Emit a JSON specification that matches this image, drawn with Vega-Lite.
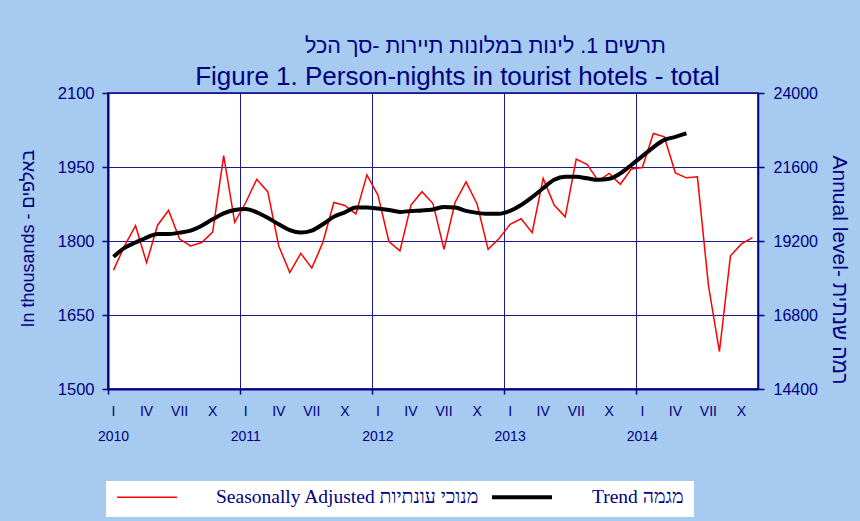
{
  "$schema": "https://vega.github.io/schema/vega-lite/v6.json",
  "width": 650,
  "height": 296,
  "autosize": {"type": "none"},
  "padding": {"left": 108, "top": 93, "right": 102, "bottom": 132},
  "background": "#A6CAF0",
  "config": {
    "font": "Liberation Sans",
    "view": {"stroke": "#000080", "strokeWidth": 1.5, "fill": "white"}
  },
  "data": {
    "values": [
      {"m": "2010-01", "sa": 1741, "trend": 1768},
      {"m": "2010-02", "sa": 1790, "trend": 1786},
      {"m": "2010-03", "sa": 1831, "trend": 1797},
      {"m": "2010-04", "sa": 1756, "trend": 1807},
      {"m": "2010-05", "sa": 1832, "trend": 1814},
      {"m": "2010-06", "sa": 1862, "trend": 1814},
      {"m": "2010-07", "sa": 1804, "trend": 1817},
      {"m": "2010-08", "sa": 1790, "trend": 1821},
      {"m": "2010-09", "sa": 1797, "trend": 1831},
      {"m": "2010-10", "sa": 1818, "trend": 1844},
      {"m": "2010-11", "sa": 1973, "trend": 1856},
      {"m": "2010-12", "sa": 1838, "trend": 1863},
      {"m": "2011-01", "sa": 1878, "trend": 1865},
      {"m": "2011-02", "sa": 1925, "trend": 1858},
      {"m": "2011-03", "sa": 1900, "trend": 1847},
      {"m": "2011-04", "sa": 1790, "trend": 1834},
      {"m": "2011-05", "sa": 1736, "trend": 1822},
      {"m": "2011-06", "sa": 1775, "trend": 1817},
      {"m": "2011-07", "sa": 1745, "trend": 1821},
      {"m": "2011-08", "sa": 1797, "trend": 1834},
      {"m": "2011-09", "sa": 1878, "trend": 1849},
      {"m": "2011-10", "sa": 1872, "trend": 1858},
      {"m": "2011-11", "sa": 1855, "trend": 1868},
      {"m": "2011-12", "sa": 1934, "trend": 1868},
      {"m": "2012-01", "sa": 1893, "trend": 1866},
      {"m": "2012-02", "sa": 1799, "trend": 1863},
      {"m": "2012-03", "sa": 1780, "trend": 1859},
      {"m": "2012-04", "sa": 1873, "trend": 1861},
      {"m": "2012-05", "sa": 1900, "trend": 1862},
      {"m": "2012-06", "sa": 1876, "trend": 1864},
      {"m": "2012-07", "sa": 1783, "trend": 1869},
      {"m": "2012-08", "sa": 1878, "trend": 1868},
      {"m": "2012-09", "sa": 1920, "trend": 1861},
      {"m": "2012-10", "sa": 1875, "trend": 1857},
      {"m": "2012-11", "sa": 1783, "trend": 1855},
      {"m": "2012-12", "sa": 1805, "trend": 1855},
      {"m": "2013-01", "sa": 1834, "trend": 1861},
      {"m": "2013-02", "sa": 1845, "trend": 1873},
      {"m": "2013-03", "sa": 1817, "trend": 1889},
      {"m": "2013-04", "sa": 1927, "trend": 1907},
      {"m": "2013-05", "sa": 1873, "trend": 1924},
      {"m": "2013-06", "sa": 1849, "trend": 1930},
      {"m": "2013-07", "sa": 1966, "trend": 1930},
      {"m": "2013-08", "sa": 1955, "trend": 1927},
      {"m": "2013-09", "sa": 1922, "trend": 1924},
      {"m": "2013-10", "sa": 1937, "trend": 1926},
      {"m": "2013-11", "sa": 1915, "trend": 1937},
      {"m": "2013-12", "sa": 1946, "trend": 1954},
      {"m": "2014-01", "sa": 1949, "trend": 1972},
      {"m": "2014-02", "sa": 2018, "trend": 1990},
      {"m": "2014-03", "sa": 2011, "trend": 2005},
      {"m": "2014-04", "sa": 1938, "trend": 2011},
      {"m": "2014-05", "sa": 1928, "trend": 2018},
      {"m": "2014-06", "sa": 1930},
      {"m": "2014-07", "sa": 1710},
      {"m": "2014-08", "sa": 1576},
      {"m": "2014-09", "sa": 1770},
      {"m": "2014-10", "sa": 1794},
      {"m": "2014-11", "sa": 1807}
    ]
  },
  "layer": [
    {
      "mark": {"type": "line"},
      "encoding": {
        "x": {
          "field": "m", "type": "ordinal", "bandPosition": 0.5,
          "scale": {"type": "band", "paddingInner": 0, "paddingOuter": 0},
          "axis": {
            "orient": "bottom",
            "values": ["2010-01", "2011-01", "2012-01", "2013-01", "2014-01"],
            "bandPosition": 0,
            "labels": false,
            "grid": true,
            "gridColor": "#1a1a8c",
            "gridWidth": 1,
            "gridOpacity": 1,
            "domainColor": "#000080",
            "domainWidth": 2,
            "tickColor": "#000080",
            "tickWidth": 1.5,
            "tickSize": 5,
            "title": "Figure 1. Person-nights in tourist hotels - total",
            "titleFont": "Liberation Sans",
            "titleFontSize": 26,
            "titleFontWeight": "normal",
            "titleColor": "#000080",
            "titleAngle": 0,
            "titleAlign": "center",
            "titleBaseline": "middle",
            "titleX": 349,
            "titleY": -313
          }
        },
        "y": {
          "field": "sa", "type": "quantitative",
          "scale": {"domain": [1500, 2100], "zero": false, "nice": false},
          "axis": {
            "orient": "left",
            "values": [1500, 1650, 1800, 1950, 2100],
            "format": "d",
            "grid": true,
            "gridColor": "#1a1a8c",
            "gridWidth": 1,
            "gridOpacity": 1,
            "domainColor": "#000080",
            "domainWidth": 2,
            "tickColor": "#000080",
            "tickWidth": 1.5,
            "tickSize": 6,
            "labelPadding": 8,
            "labelColor": "#000080",
            "labelFontSize": 16.5,
            "title": "In thousands - באלפים",
            "titleColor": "#000080",
            "titleFontSize": 18,
            "titleFontWeight": "normal",
            "titleAngle": -90,
            "titleAlign": "left",
            "titleBaseline": "middle",
            "titleX": -80,
            "titleY": 234
          }
        },
        "color": {
          "datum": "Seasonally Adjusted מנוכי עונתיות", "type": "nominal",
          "scale": {"domain": ["Seasonally Adjusted מנוכי עונתיות", "Trend מגמה"], "range": ["#FF0000", "#000000"]},
          "legend": {
            "title": null,
            "orient": "none",
            "legendX": -2,
            "legendY": 388,
            "direction": "horizontal",
            "fillColor": "white",
            "padding": 10,
            "symbolType": "stroke",
            "symbolSize": 3600,
            "clipHeight": 12,
            "labelFont": "Liberation Serif",
            "labelFontSize": 19.5,
            "labelColor": "#000080",
            "labelOffset": 38,
            "columnPadding": 10,
            "labelLimit": 400
          }
        },
        "strokeWidth": {
          "datum": "Seasonally Adjusted מנוכי עונתיות", "type": "nominal",
          "scale": {"domain": ["Seasonally Adjusted מנוכי עונתיות", "Trend מגמה"], "range": [1.5, 4]},
          "legend": {
            "title": null,
            "orient": "none",
            "legendX": -2,
            "legendY": 388,
            "direction": "horizontal",
            "fillColor": "white",
            "padding": 10,
            "symbolType": "stroke",
            "symbolSize": 3600,
            "clipHeight": 12,
            "labelFont": "Liberation Serif",
            "labelFontSize": 19.5,
            "labelColor": "#000080",
            "labelOffset": 38,
            "columnPadding": 10,
            "labelLimit": 400
          }
        }
      }
    },
    {
      "mark": {"type": "line", "interpolate": "monotone"},
      "encoding": {
        "x": {
          "field": "m", "type": "ordinal", "bandPosition": 0.5,
          "scale": {"type": "band", "paddingInner": 0, "paddingOuter": 0},
          "axis": {
            "orient": "bottom",
            "values": ["2010-01", "2010-04", "2010-07", "2010-10", "2011-01", "2011-04", "2011-07", "2011-10", "2012-01", "2012-04", "2012-07", "2012-10", "2013-01", "2013-04", "2013-07", "2013-10", "2014-01", "2014-04", "2014-07", "2014-10"],
            "labelExpr": "substring(datum.value, 5, 7) == '01' ? ['I', substring(datum.value, 0, 4)] : substring(datum.value, 5, 7) == '04' ? 'IV' : substring(datum.value, 5, 7) == '07' ? 'VII' : 'X'",
            "ticks": false,
            "domain": false,
            "grid": false,
            "title": null,
            "labelAngle": 0,
            "labelOverlap": false,
            "labelColor": "#000080",
            "labelFontSize": 14,
            "labelLineHeight": 25,
            "labelPadding": 15
          }
        },
        "y": {
          "field": "trend", "type": "quantitative",
          "scale": {"domain": [1500, 2100], "zero": false, "nice": false},
          "axis": null
        },
        "color": {"datum": "Trend מגמה", "type": "nominal"},
        "strokeWidth": {"datum": "Trend מגמה", "type": "nominal"}
      }
    },
    {
      "data": {"values": [{"lvl": 14400}, {"lvl": 24000}]},
      "mark": {"type": "point", "opacity": 0},
      "encoding": {
        "x": {
          "datum": "2010-01", "type": "ordinal",
          "axis": {
            "orient": "top",
            "labels": false,
            "ticks": false,
            "domain": false,
            "grid": false,
            "title": "תרשים 1. לינות במלונות תיירות -סך הכל",
            "titleFont": "Liberation Sans",
            "titleFontSize": 21.5,
            "titleFontWeight": "normal",
            "titleColor": "#000080",
            "titleAngle": 0,
            "titleAlign": "center",
            "titleBaseline": "middle",
            "titleX": 377,
            "titleY": -47
          }
        },
        "y": {
          "field": "lvl", "type": "quantitative",
          "scale": {"domain": [14400, 24000], "zero": false, "nice": false},
          "axis": {
            "orient": "right",
            "values": [14400, 16800, 19200, 21600, 24000],
            "format": "d",
            "grid": false,
            "domainColor": "#000080",
            "domainWidth": 1.5,
            "tickColor": "#000080",
            "tickWidth": 1.5,
            "tickSize": 6,
            "labelPadding": 9,
            "labelColor": "#000080",
            "labelFontSize": 16,
            "title": "Annual level- רמה שנתית",
            "titleColor": "#000080",
            "titleFontSize": 21,
            "titleFontWeight": "normal",
            "titleAngle": 90,
            "titleAlign": "left",
            "titleBaseline": "middle",
            "titleX": 80,
            "titleY": 62
          }
        }
      }
    }
  ],
  "resolve": {
    "scale": {"y": "independent"},
    "axis": {"x": "independent", "y": "independent"}
  }
}
